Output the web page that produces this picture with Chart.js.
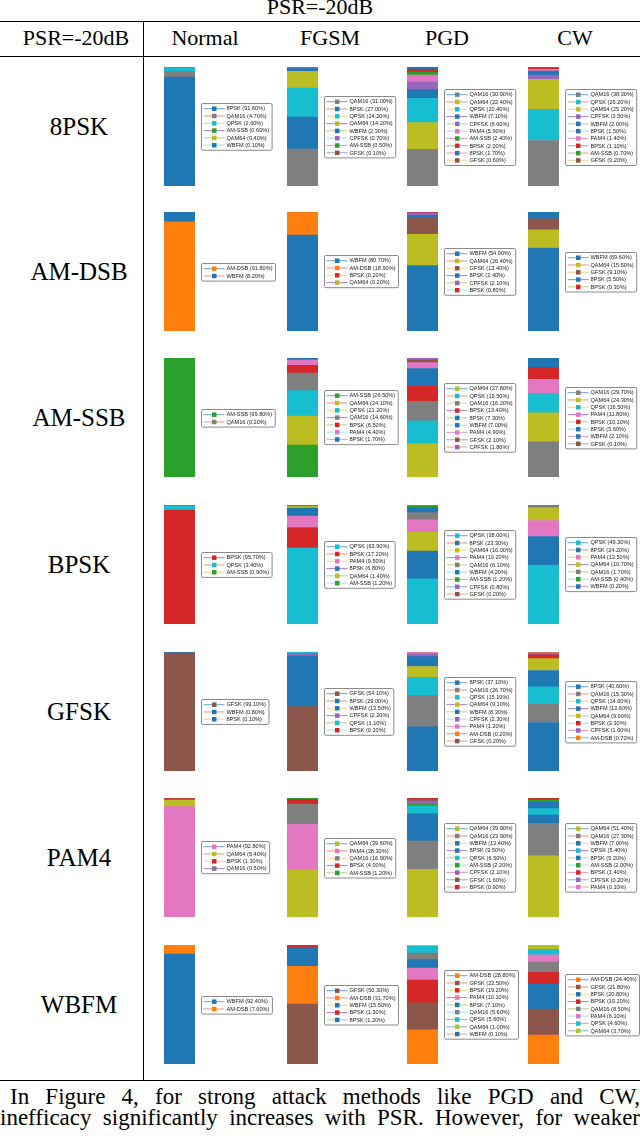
<!DOCTYPE html>
<html>
<head>
<meta charset="utf-8">
<script src="https://cdn.jsdelivr.net/npm/chart.js@4"></script>
<style>
  body { margin: 0; background: #fff; }
  #page { position: relative; width: 640px; height: 1140px; overflow: hidden; background: #fff;
          font-family: "Liberation Serif", "Times New Roman", serif; color: #000; }
  .t { position: absolute; white-space: nowrap; line-height: 1; }
  .hl { position: absolute; left: 0; width: 640px; height: 1px; background: #000; }
  .vl { position: absolute; width: 1px; background: #000; }
  canvas { position: absolute; }
  .para { position: absolute; font-size: 23px; line-height: 21px; text-align: justify; text-align-last: justify; white-space: nowrap; }
</style>
</head>
<body>
<div id="page">
  <div class="t" style="left:0;width:640px;text-align:center;top:-4px;font-size:22px;">PSR=-20dB</div>
  <div class="hl" style="top:21px"></div>
  <div class="hl" style="top:56px"></div>
  <div class="hl" style="top:1080px"></div>
  <div class="vl" style="left:143px;top:21px;height:1060px"></div>
  <div class="para" style="left:10px;width:630px;top:1086px;">In Figure 4, for strong attack methods like PGD and CW,</div>
  <div class="para" style="left:0;width:640px;top:1107px;">inefficacy significantly increases with PSR. However, for weaker</div>
</div>
<script>
// table text
const colLabels = ['Normal', 'FGSM', 'PGD', 'CW'];
const rowLabels = ['8PSK', 'AM-DSB', 'AM-SSB', 'BPSK', 'GFSK', 'PAM4', 'WBFM'];

// predicted class + share (%) for each cell, per true class row: [Normal, FGSM, PGD, CW]
const psk8Labels = [
  ['8PSK','QAM16','QPSK','AM-SSB','QAM64','WBFM'],
  ['QAM16','8PSK','QPSK','QAM64','WBFM','CPFSK','AM-SSB','GFSK'],
  ['QAM16','QAM64','QPSK','WBFM','CPFSK','PAM4','AM-SSB','BPSK','8PSK','GFSK'],
  ['QAM16','QPSK','QAM64','CPFSK','WBFM','8PSK','PAM4','BPSK','AM-SSB','GFSK']
];
const psk8Values = [
  [91.6, 4.7, 2.6, 0.6, 0.4, 0.1],
  [31.0, 27.0, 24.2, 14.2, 2.3, 0.7, 0.5, 0.1],
  [30.9, 22.4, 20.4, 7.1, 6.6, 5.9, 2.4, 2.0, 1.7, 0.6],
  [38.3, 26.2, 25.2, 3.5, 2.0, 1.5, 1.4, 1.1, 0.7, 0.2]
];
const amdsbLabels = [
  ['AM-DSB','WBFM'],
  ['WBFM','AM-DSB','BPSK','QAM64'],
  ['WBFM','QAM64','GFSK','8PSK','CPFSK','BPSK'],
  ['WBFM','QAM64','GFSK','8PSK','BPSK']
];
const amdsbValues = [
  [91.8, 8.2],
  [80.7, 18.9, 0.2, 0.2],
  [54.9, 26.4, 13.4, 2.4, 2.1, 0.8],
  [69.6, 15.5, 9.1, 5.5, 0.3]
];
const amssbLabels = [
  ['AM-SSB','QAM16'],
  ['AM-SSB','QAM64','QPSK','QAM16','BPSK','PAM4','8PSK'],
  ['QAM64','QPSK','QAM16','BPSK','8PSK','WBFM','PAM4','GFSK','CPFSK'],
  ['QAM16','QAM64','QPSK','PAM4','BPSK','8PSK','WBFM','GFSK']
];
const amssbValues = [
  [99.8, 0.2],
  [26.5, 24.1, 21.2, 14.6, 6.5, 4.4, 1.7],
  [27.8, 19.5, 16.2, 13.4, 7.3, 7.0, 4.9, 2.1, 1.8],
  [29.7, 24.3, 16.5, 11.8, 10.1, 5.6, 2.1, 0.1]
];
const bpskLabels = [
  ['BPSK','QPSK','AM-SSB'],
  ['QPSK','BPSK','PAM4','8PSK','QAM64','AM-SSB'],
  ['QPSK','8PSK','QAM64','PAM4','QAM16','WBFM','AM-SSB','CPFSK','GFSK'],
  ['QPSK','8PSK','PAM4','QAM64','QAM16','AM-SSB','WBFM']
];
const bpskValues = [
  [95.7, 3.4, 0.9],
  [63.9, 17.2, 9.5, 6.8, 1.4, 1.2],
  [38.0, 23.3, 16.0, 10.2, 6.1, 4.2, 1.2, 0.8, 0.2],
  [49.3, 24.2, 13.5, 10.7, 1.7, 0.4, 0.2]
];
const gfskLabels = [
  ['GFSK','WBFM','8PSK'],
  ['GFSK','8PSK','WBFM','CPFSK','QPSK','BPSK'],
  ['8PSK','QAM16','QPSK','QAM64','WBFM','CPFSK','PAM4','AM-DSB','GFSK'],
  ['8PSK','QAM16','QPSK','WBFM','QAM64','BPSK','CPFSK','AM-DSB']
];
const gfskValues = [
  [99.1, 0.8, 0.1],
  [54.1, 29.0, 13.5, 2.2, 1.1, 0.1],
  [37.1, 26.7, 15.1, 9.1, 8.3, 2.3, 1.2, 0.2, 0.2],
  [40.6, 15.3, 14.6, 13.6, 9.9, 3.3, 1.6, 0.7]
];
const pam4Labels = [
  ['PAM4','QAM64','BPSK','QAM16'],
  ['QAM64','PAM4','QAM16','BPSK','AM-SSB'],
  ['QAM64','QAM16','WBFM','8PSK','QPSK','AM-SSB','CPFSK','GFSK','BPSK'],
  ['QAM64','QAM16','WBFM','QPSK','8PSK','AM-SSB','BPSK','CPFSK','PAM4']
];
const pam4Values = [
  [92.8, 5.4, 1.3, 0.5],
  [39.6, 38.3, 16.9, 4.0, 1.2],
  [39.9, 23.9, 13.4, 9.5, 6.5, 2.2, 2.1, 1.6, 0.9],
  [51.4, 27.3, 7.0, 5.4, 5.2, 2.0, 1.4, 0.2, 0.1]
];
const wbfmLabels = [
  ['WBFM','AM-DSB'],
  ['GFSK','AM-DSB','WBFM','BPSK','8PSK'],
  ['AM-DSB','GFSK','BPSK','PAM4','8PSK','QAM16','QPSK','QAM64','WBFM'],
  ['AM-DSB','GFSK','8PSK','BPSK','QAM16','PAM4','QPSK','QAM64']
];
const wbfmValues = [
  [92.4, 7.6],
  [50.3, 31.7, 15.5, 1.3, 1.2],
  [28.8, 22.5, 19.2, 10.1, 7.1, 5.6, 5.6, 1.0, 0.1],
  [24.4, 21.8, 20.8, 10.1, 8.5, 6.1, 4.6, 3.7]
];

const allLabels = [psk8Labels, amdsbLabels, amssbLabels, bpskLabels, gfskLabels, pam4Labels, wbfmLabels];
const allValues = [psk8Values, amdsbValues, amssbValues, bpskValues, gfskValues, pam4Values, wbfmValues];

// one colour per class (tab10 cycle, WBFM wraps back to blue)
const classColors = {
  '8PSK': '#1f77b4', 'AM-DSB': '#ff7f0e', 'AM-SSB': '#2ca02c', 'BPSK': '#d62728',
  'CPFSK': '#9467bd', 'GFSK': '#8c564b', 'PAM4': '#e377c2', 'QAM16': '#7f7f7f',
  'QAM64': '#bcbd22', 'QPSK': '#17becf', 'WBFM': '#1f77b4'
};
const lineColors = ['#7fb0dc', '#f2a58c', '#fbd69a', '#b98ccf', '#bcdc9a', '#aee4f0', '#e8a3c0', '#9bbbe0', '#f0b09a', '#f6d7a8'];

// layout
const barLeft = [164, 287, 407, 528];
const rowTop = [67, 212, 358, 505, 652, 798, 945];
const barW = 31, barH = 119;
const colCenter = [205, 330, 447, 575];

const page = document.getElementById('page');
function addText(txt, cx, cy, size) {
  const d = document.createElement('div');
  d.className = 't';
  d.textContent = txt;
  d.style.fontSize = size + 'px';
  d.style.left = (cx - 100) + 'px';
  d.style.width = '200px';
  d.style.textAlign = 'center';
  d.style.top = (cy - size / 2) + 'px';
  page.appendChild(d);
}
addText('PSR=-20dB', 76, 38, 22);
colLabels.forEach((c, i) => addText(c, colCenter[i], 38, 22));
rowLabels.forEach((r, i) => addText(r, 79, rowTop[i] + barH / 2, 25));

// legend in a rounded box, right of the bar
const boxLegend = {
  id: 'boxLegend',
  afterDraw(chart) {
    const ctx = chart.ctx;
    const area = chart.chartArea;
    const ds = chart.data.datasets;
    const entryH = 7.3;
    ctx.save();
    ctx.font = '5.6px "Liberation Sans", Arial, sans-serif';
    const texts = ds.map(d => d.label + ' (' + d.data[0].toFixed(2) + '%)');
    const tw = Math.max(...texts.map(t => ctx.measureText(t).width));
    const w = 25 + tw + 3;
    const h = ds.length * entryH + 3;
    const x0 = area.right + 6.5;
    const y0 = Math.round((area.top + area.bottom) / 2 - h / 2) + 0.5;
    ctx.fillStyle = '#fff';
    ctx.strokeStyle = '#8a8a8a';
    ctx.lineWidth = 1;
    ctx.beginPath();
    ctx.roundRect(x0, y0, w, h, 1.5);
    ctx.fill();
    ctx.stroke();
    ds.forEach((d, i) => {
      const y = y0 + 1.5 + entryH * (i + 0.5);
      ctx.strokeStyle = lineColors[i % lineColors.length];
      ctx.lineWidth = 1.2;
      ctx.beginPath();
      ctx.moveTo(x0 + 2, y);
      ctx.lineTo(x0 + 23, y);
      ctx.stroke();
      ctx.fillStyle = d.backgroundColor;
      ctx.fillRect(x0 + 10.5, y - 2.2, 4.5, 4.5);
      ctx.fillStyle = '#222';
      ctx.textBaseline = 'middle';
      ctx.fillText(texts[i], x0 + 25, y + 0.3);
    });
    ctx.restore();
  }
};

for (let r = 0; r < rowLabels.length; r++) {
  for (let c = 0; c < colLabels.length; c++) {
    const labels = allLabels[r][c];
    const values = allValues[r][c];
    const total = values.reduce((a, b) => a + b, 0);
    const cv = document.createElement('canvas');
    cv.width = 118;
    cv.height = barH;
    cv.style.left = barLeft[c] + 'px';
    cv.style.top = rowTop[r] + 'px';
    page.appendChild(cv);
    new Chart(cv, {
      type: 'bar',
      data: {
        labels: [rowLabels[r]],
        datasets: labels.map((lab, i) => ({
          label: lab,
          data: [values[i]],
          backgroundColor: classColors[lab],
          borderWidth: 0,
          barPercentage: 1,
          categoryPercentage: 1
        }))
      },
      options: {
        responsive: false,
        animation: false,
        layout: { padding: { left: 0, top: 0, bottom: 0, right: 118 - barW } },
        scales: {
          x: { display: false, stacked: true },
          y: { display: false, stacked: true, min: 0, max: total }
        },
        plugins: { legend: { display: false }, tooltip: { enabled: false } }
      },
      plugins: [boxLegend]
    });
  }
}
</script>
</body>
</html>
